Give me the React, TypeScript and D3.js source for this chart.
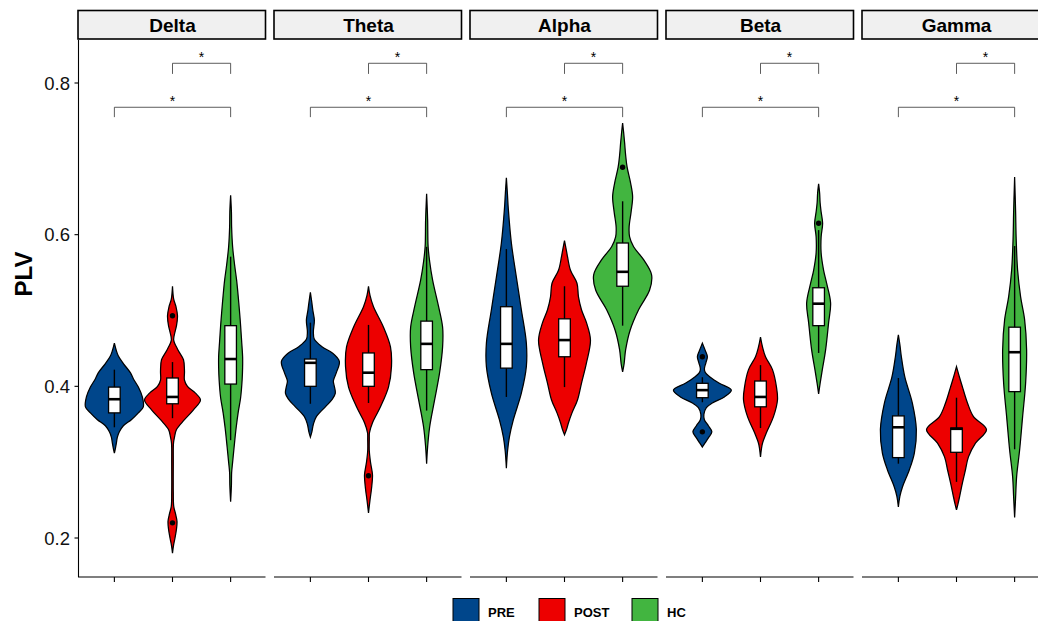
import React from "react";
import * as d3 from "d3";

// ---------- data ----------
const bands = ["Delta", "Theta", "Alpha", "Beta", "Gamma"];
const groups = ["PRE", "POST", "HC"];
const groupColors = ["#00468B", "#ED0000", "#42B540"];
const yTicks = [0.2, 0.4, 0.6, 0.8];

// violin profiles: [PLV value, relative density width]
const deltaPre = [[0.312,0],[0.318,1],[0.325,2],[0.333,3],[0.340,5],[0.348,9],[0.356,17],[0.365,24],[0.373,29],[0.386,28],[0.399,24],[0.410,19],[0.418,16],[0.430,9],[0.440,4],[0.447,2],[0.457,0]];
const deltaPost = [[0.180,0],[0.190,1],[0.200,2.5],[0.212,4],[0.222,4.5],[0.232,3],[0.242,1.2],[0.26,0.8],[0.30,0.8],[0.325,1],[0.333,2],[0.343,4],[0.356,12],[0.369,21],[0.382,28],[0.391,23],[0.400,15],[0.408,12],[0.420,12],[0.435,11],[0.448,5.5],[0.461,1.2],[0.470,2.2],[0.480,4],[0.493,5],[0.505,3.5],[0.515,1.2],[0.532,0]];
const deltaHc = [[0.248,0],[0.270,0.8],[0.286,1],[0.300,2],[0.320,3.5],[0.345,5.5],[0.365,7.5],[0.385,10],[0.408,11.5],[0.425,12],[0.439,12],[0.460,11],[0.480,10],[0.497,9],[0.520,7.5],[0.540,6],[0.560,4],[0.584,2],[0.610,1],[0.630,0.8],[0.652,0]];

const thetaPre = [[0.333,0],[0.340,1.5],[0.350,3],[0.360,6],[0.373,15],[0.383,22],[0.391,25],[0.400,24],[0.407,23],[0.418,26],[0.433,29],[0.444,22],[0.452,12],[0.462,4],[0.472,3],[0.487,4],[0.500,2.5],[0.510,1.5],[0.524,0]];
const thetaPost = [[0.233,0],[0.250,1.5],[0.265,3],[0.283,4],[0.300,2],[0.315,0.8],[0.330,0.8],[0.339,1],[0.352,4],[0.373,12],[0.399,20],[0.426,23],[0.452,22],[0.478,15],[0.505,5],[0.520,1.5],[0.532,0]];
const thetaHc = [[0.298,0],[0.320,1],[0.346,3],[0.382,8],[0.418,13],[0.452,16],[0.478,16],[0.505,12],[0.540,6],[0.565,3],[0.584,1.5],[0.620,1],[0.654,0]];

const alphaPre = [[0.292,0],[0.315,1.2],[0.333,3],[0.356,7],[0.391,15],[0.426,20],[0.457,20],[0.501,15],[0.544,10],[0.589,5],[0.633,2],[0.655,1],[0.675,0]];
const alphaPost = [[0.336,0],[0.343,2],[0.352,4],[0.365,7.5],[0.382,13],[0.404,17],[0.431,22],[0.461,26],[0.484,22],[0.501,17],[0.518,14],[0.536,12.5],[0.553,6],[0.571,3],[0.582,1.5],[0.592,0]];
const alphaHc = [[0.419,0],[0.430,1.5],[0.448,3],[0.474,7.5],[0.501,16],[0.527,27],[0.547,29],[0.567,21],[0.584,11],[0.597,7],[0.610,6.5],[0.630,8.5],[0.650,10],[0.668,8],[0.689,4.5],[0.705,3],[0.721,2],[0.735,1],[0.747,0]];

const betaPre = [[0.320,0],[0.325,2.5],[0.332,6],[0.340,9.5],[0.348,6],[0.356,2],[0.363,1.5],[0.372,4],[0.378,10],[0.386,22],[0.395,29],[0.404,17],[0.412,8],[0.418,3],[0.423,2],[0.431,3.5],[0.439,5],[0.447,3],[0.452,1.5],[0.457,0]];
const betaPost = [[0.307,0],[0.318,1],[0.325,2],[0.339,6],[0.360,13],[0.382,17],[0.399,16],[0.422,12],[0.439,5],[0.452,2],[0.465,0]];
const betaHc = [[0.390,0],[0.404,1.5],[0.422,3.7],[0.448,7],[0.484,10],[0.510,12],[0.536,8],[0.553,5],[0.576,2.5],[0.597,2.5],[0.615,4],[0.630,2.5],[0.642,1.5],[0.655,1],[0.667,0]];

const gammaPre = [[0.241,0],[0.255,1.5],[0.267,4],[0.290,11],[0.312,16],[0.343,18],[0.378,14],[0.412,6.5],[0.439,3],[0.455,1.5],[0.468,0]];
const gammaPost = [[0.237,0],[0.245,1.5],[0.254,3],[0.273,6],[0.290,9],[0.307,12],[0.325,19],[0.343,30],[0.360,17],[0.378,11],[0.399,6],[0.412,3],[0.426,0]];
const gammaHc = [[0.227,0],[0.254,1],[0.281,2],[0.316,5],[0.360,8],[0.404,11],[0.448,12],[0.488,10],[0.518,6],[0.553,3],[0.597,1.5],[0.630,1],[0.676,0]];

// box stats: [whiskerLow, q1, median, q3, whiskerHigh]
const deltaBoxes = [[0.346,0.365,0.383,0.399,0.422],[0.358,0.377,0.386,0.411,0.432],[0.329,0.403,0.436,0.480,0.571]];
const thetaBoxes = [[0.377,0.400,0.431,0.436,0.484],[0.378,0.400,0.418,0.444,0.481],[0.368,0.422,0.456,0.486,0.584]];
const alphaBoxes = [[0.386,0.424,0.456,0.505,0.581],[0.399,0.439,0.461,0.489,0.532],[0.480,0.532,0.551,0.589,0.644]];
const betaBoxes = [[0.379,0.385,0.395,0.404,0.412],[0.345,0.373,0.386,0.407,0.428],[0.444,0.480,0.509,0.530,0.606]];
const gammaBoxes = [[0.298,0.306,0.346,0.361,0.411],[0.274,0.313,0.344,0.345,0.385],[0.317,0.393,0.445,0.478,0.585]];

// outliers per group
const deltaOutliers = [[], [0.493, 0.220], []];
const thetaOutliers = [[], [0.282], []];
const alphaOutliers = [[], [], [0.689]];
const betaOutliers = [[0.439, 0.340], [], [0.615]];
const gammaOutliers = [[], [], []];

// significance brackets: [from group, to group, bar level, tick end]
const brackets = [["POST", "HC", 0.826, 0.812], ["PRE", "HC", 0.768, 0.755]];
const bracketLabel = "*";

const violins = [[deltaPre, deltaPost, deltaHc],[thetaPre, thetaPost, thetaHc],[alphaPre, alphaPost, alphaHc],[betaPre, betaPost, betaHc],[gammaPre, gammaPost, gammaHc]];
const boxes = [deltaBoxes, thetaBoxes, alphaBoxes, betaBoxes, gammaBoxes];
const outliers = [deltaOutliers, thetaOutliers, alphaOutliers, betaOutliers, gammaOutliers];

// ---------- layout ----------
const W = 1038, H = 621;
const panelTop = 40, panelBottom = 577;
const firstLeft = 79.5, panelW = 186, panelStep = 196;
const FONT = "'Liberation Sans', Arial, Helvetica, sans-serif";

export default function App() {
  const y = d3.scaleLinear().domain([0.2, 0.8]).range([538, 83]);
  const panelX = d3.scaleBand().domain(bands).range([firstLeft, firstLeft + panelStep * bands.length]).paddingInner(0).paddingOuter(0);

  return (
    <svg width={W} height={H} style={{ position: "absolute", left: 0, top: 0, fontFamily: FONT }}>
      <rect x={0} y={0} width={W} height={H} fill="#fff" />
      {/* Y axis */}
      <line x1={firstLeft - 1} x2={firstLeft - 1} y1={panelTop} y2={panelBottom} stroke="#000" strokeWidth={1.1} />
      {yTicks.map((t) => (
        <g key={t}>
          <line x1={firstLeft - 5} x2={firstLeft - 1} y1={y(t)} y2={y(t)} stroke="#000" strokeWidth={1.1} />
          <text x={70} y={y(t)} dy="0.36em" textAnchor="end" fontSize={18.5} fill="#111">{t.toFixed(1)}</text>
        </g>
      ))}
      <text transform={`translate(32,274) rotate(-90)`} textAnchor="middle" fontSize={24} fontWeight="bold" fill="#000">PLV</text>

      {bands.map((b, bi) => {
        const left = panelX(b)!;
        const x = d3.scalePoint().domain(groups).range([left, left + panelW]).padding(0.6);
        const step = x.step();
        const wScale = d3.scaleLinear().domain([0, 1]).range([0, step / 58.2]);
        const boxHalf = step * 0.1;
        return (
          <g key={b}>
            {/* strip */}
            <rect x={left - 1.5} y={10.5} width={panelW + 1.5} height={28.5} fill="#F0F0F0" stroke="#000" strokeWidth={1.6} />
            <text x={left + panelW / 2} y={25} dy="0.36em" textAnchor="middle" fontSize={19} fontWeight="bold" fill="#000">{b}</text>
            {/* x axis */}
            <line x1={left - 1.5} x2={left + panelW} y1={panelBottom} y2={panelBottom} stroke="#000" strokeWidth={1.1} />
            {groups.map((g) => (
              <line key={g} x1={x(g)} x2={x(g)} y1={panelBottom} y2={panelBottom + 5} stroke="#000" strokeWidth={1.1} />
            ))}
            {/* violins */}
            {groups.map((g, gi) => {
              const cx = x(g)!;
              const area = d3.area<number[]>()
                .curve(d3.curveCatmullRom.alpha(0.5))
                .y((d) => y(d[0]))
                .x0((d) => cx - wScale(d[1]))
                .x1((d) => cx + wScale(d[1]));
              const [wl, q1, med, q3, wh] = boxes[bi][gi];
              return (
                <g key={g}>
                  <path d={area(violins[bi][gi] as number[][])!} fill={groupColors[gi]} stroke="#000" strokeWidth={1.25} />
                  <line x1={cx} x2={cx} y1={y(wl)} y2={y(wh)} stroke="#000" strokeWidth={1.4} />
                  <rect x={cx - boxHalf} y={y(q3)} width={boxHalf * 2} height={y(q1) - y(q3)} fill="#fff" stroke="#000" strokeWidth={1.3} />
                  <line x1={cx - boxHalf} x2={cx + boxHalf} y1={y(med)} y2={y(med)} stroke="#000" strokeWidth={2.6} />
                  {outliers[bi][gi].map((o, oi) => (
                    <circle key={oi} cx={cx} cy={y(o)} r={2.7} fill="#000" />
                  ))}
                </g>
              );
            })}
            {/* brackets */}
            {brackets.map((br, ri) => {
              const x1 = x(br[0] as string)!, x2 = x(br[1] as string)!;
              const yb = y(br[2] as number), yt = y(br[3] as number);
              return (
                <g key={ri}>
                  <path d={`M${x1},${yt}V${yb}H${x2}V${yt}`} fill="none" stroke="#333" strokeWidth={0.8} />
                  <text x={(x1 + x2) / 2} y={yb - 1} textAnchor="middle" fontSize={14} fill="#000">{bracketLabel}</text>
                </g>
              );
            })}
          </g>
        );
      })}

      {/* legend */}
      {groups.map((g, gi) => {
        const lx = [453, 539, 632][gi];
        return (
          <g key={g}>
            <rect x={lx} y={598.5} width={26} height={26} fill={groupColors[gi]} stroke="#000" strokeWidth={1} />
            <text x={lx + 35} y={617} fontSize={13} fontWeight="bold" fill="#000">{g}</text>
          </g>
        );
      })}
    </svg>
  );
}
